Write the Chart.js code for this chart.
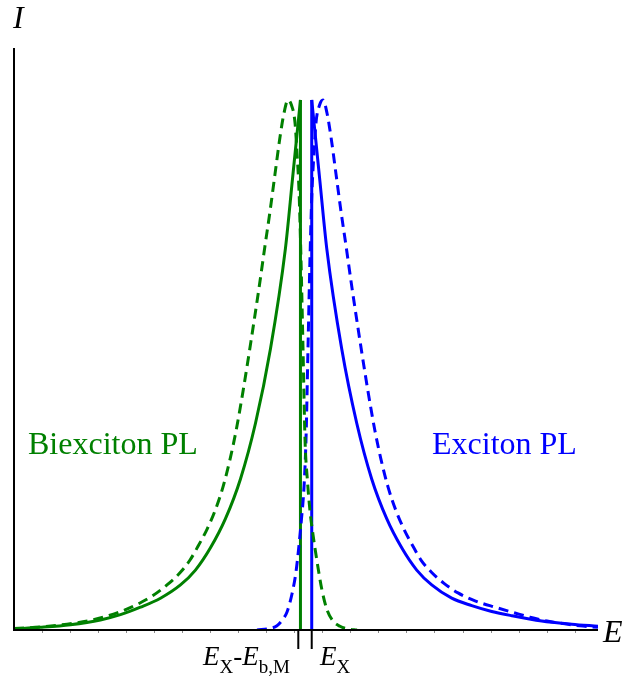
<!DOCTYPE html>
<html>
<head>
<meta charset="utf-8">
<script src="https://cdn.jsdelivr.net/npm/chart.js@4.4.1/dist/chart.umd.min.js"></script>
<style>
  html, body { margin: 0; padding: 0; background: #fff; }
  canvas { display: block; }
</style>
</head>
<body>
<canvas id="chart" width="625" height="680" style="width:625px;height:680px"></canvas>
<script>
// Energy axis in arbitrary units (0..100), intensity normalised to the peak (1)
const E_MIN = 0, E_MAX = 100;
const I_MIN = 0, I_MAX = 1.098;

// line positions: E_X - E_b,M (biexciton cusp) and E_X (exciton cusp)
const biexCusp = 49.05;
const excCusp = 50.98;
const cuspI = [0, 1.0];

// Biexciton PL, sharp line shape (solid green), rising up to the cusp
const biexSolidE = [0, 4.53, 9.67, 14.80, 18.23, 21.65, 25.08, 28.50, 31.07, 33.64, 36.21, 38.78, 41.35, 43.91, 46.48, 47.68, 49.05];
const biexSolidI = [0.002, 0.005, 0.010, 0.019, 0.029, 0.043, 0.060, 0.085, 0.113, 0.155, 0.21, 0.285, 0.39, 0.53, 0.72, 0.85, 1.0];

// Biexciton PL, broadened (dashed green)
const biexDashE = [0, 4.97, 9.08, 13.01, 16.44, 19.01, 21.58, 23.80, 26.20, 28.42, 30.14, 31.51, 33.05, 34.42, 35.79, 36.99, 38.01, 39.21, 40.58, 41.95, 42.98, 43.84, 44.69, 45.55, 46.23, 46.92,
                   47.52, 48.12, 48.46, 48.80, 49.14, 49.49, 49.83, 50.26, 50.68, 51.20, 51.88, 52.74, 53.60, 54.62, 55.82, 57.19, 58.73];
const biexDashI = [0.003, 0.006, 0.011, 0.018, 0.028, 0.038, 0.051, 0.065, 0.085, 0.108, 0.132, 0.158, 0.19, 0.225, 0.270, 0.322, 0.375, 0.45, 0.545, 0.645, 0.725, 0.79, 0.86, 0.93, 0.975, 1.0,
                   0.99, 0.957, 0.90, 0.83, 0.70, 0.53, 0.36, 0.28, 0.225, 0.18, 0.13, 0.075, 0.038, 0.017, 0.007, 0.002, 0];

// Exciton PL, sharp line shape (solid blue), decaying from the cusp
const excSolidE = [50.98, 52.35, 53.55, 56.12, 58.69, 61.25, 63.82, 66.39, 68.96, 71.53, 74.95, 78.38, 81.80, 85.23, 90.36, 95.50, 100];
const excSolidI = [1.0, 0.85, 0.72, 0.53, 0.39, 0.285, 0.21, 0.155, 0.113, 0.085, 0.060, 0.046, 0.035, 0.027, 0.017, 0.011, 0.007];

// Exciton PL, broadened (dashed blue)
const excDashE = [41.61, 43.84, 45.03, 45.89, 46.75, 47.60, 48.29, 48.80, 49.23, 49.66, 50.00, 50.34, 50.68, 51.03, 51.37, 51.71, 52.31, 52.91,
                  53.60, 54.28, 55.14, 55.99, 56.85, 57.88, 59.25, 60.62, 61.82, 62.84, 64.04, 65.41, 66.78, 68.32, 69.69, 71.40, 73.63, 76.03, 78.94, 82.71, 85.79, 88.36, 91.27, 94.01, 96.92, 100];
const excDashI = [0, 0.003, 0.008, 0.018, 0.034, 0.068, 0.11, 0.16, 0.21, 0.27, 0.36, 0.53, 0.70, 0.83, 0.90, 0.957, 0.99, 1.0,
                  0.975, 0.93, 0.86, 0.79, 0.725, 0.645, 0.545, 0.45, 0.375, 0.322, 0.270, 0.225, 0.19, 0.158, 0.132, 0.110, 0.088, 0.070, 0.055, 0.042, 0.032, 0.024, 0.017, 0.012, 0.008, 0.005];

// marked energies on the axis: E_X - E_b,M and E_X
const markerTicks = [48.68, 50.98];
const minorTickStep = 4.8;

const GREEN = '#008000';
const BLUE = '#0000ff';
const SERIF = '"Liberation Serif", "DejaVu Serif", serif';

function pts(xs, ys) {
  return xs.map((x, i) => ({ x: x, y: ys[i] }));
}

function drawRuns(ctx, runs, x, y) {
  // runs: [text, size, italic, baseline shift]
  runs.forEach(r => {
    ctx.font = (r[2] ? 'italic ' : '') + r[1] + 'px ' + SERIF;
    ctx.fillText(r[0], x, y + r[3]);
    x += ctx.measureText(r[0]).width;
  });
}

const decorations = {
  id: 'decorations',
  afterDatasetsDraw(chart) {
    const { ctx, chartArea: a, scales } = chart;
    const xs = scales.x;
    ctx.save();

    // little grey ticks under the energy axis
    ctx.strokeStyle = '#8a8a8a';
    ctx.lineWidth = 1;
    for (let e = minorTickStep; e < E_MAX; e += minorTickStep) {
      const px = Math.round(xs.getPixelForValue(e)) + 0.5;
      ctx.beginPath();
      ctx.moveTo(px, a.bottom);
      ctx.lineTo(px, a.bottom + 3);
      ctx.stroke();
    }

    // axes
    ctx.strokeStyle = '#000';
    ctx.lineWidth = 2;
    ctx.beginPath();
    ctx.moveTo(a.left, a.top);
    ctx.lineTo(a.left, a.bottom);
    ctx.lineTo(a.right, a.bottom);
    ctx.stroke();

    // long marker ticks
    markerTicks.forEach(e => {
      const px = xs.getPixelForValue(e);
      ctx.beginPath();
      ctx.moveTo(px, a.bottom);
      ctx.lineTo(px, a.bottom + 19);
      ctx.stroke();
    });

    // axis titles
    ctx.fillStyle = '#000';
    ctx.textBaseline = 'alphabetic';
    ctx.textAlign = 'left';
    ctx.font = 'italic 32px ' + SERIF;
    ctx.fillText('I', a.left - 1, 28);
    ctx.fillText('E', a.right + 5, 642);

    // marker labels
    drawRuns(ctx, [['E', 27, true, 0], ['X', 19, false, 8], ['-', 27, false, 0], ['E', 27, true, 0], ['b,M', 19, false, 8]], 203, a.bottom + 35);
    drawRuns(ctx, [['E', 27, true, 0], ['X', 19, false, 8]], 320, a.bottom + 35);

    // series labels
    ctx.font = '32px ' + SERIF;
    ctx.fillStyle = GREEN;
    ctx.fillText('Biexciton PL', 28, 454);
    ctx.fillStyle = BLUE;
    ctx.fillText('Exciton PL', 432, 454);

    ctx.restore();
  }
};

const line = (data, color, dashed) => ({
  data: data,
  showLine: true,
  borderColor: color,
  backgroundColor: color,
  borderWidth: 3,
  borderDash: dashed ? [10, 6] : [],
  pointRadius: 0,
  cubicInterpolationMode: 'monotone',
  fill: false
});

new Chart(document.getElementById('chart'), {
  type: 'scatter',
  data: {
    datasets: [
      line(pts(biexDashE, biexDashI), GREEN, true),
      line(pts(excDashE, excDashI), BLUE, true),
      line(pts(biexSolidE, biexSolidI), GREEN, false),
      line(pts([biexCusp, biexCusp], cuspI), GREEN, false),
      line(pts(excSolidE, excSolidI), BLUE, false),
      line(pts([excCusp, excCusp], cuspI), BLUE, false)
    ]
  },
  options: {
    responsive: false,
    animation: false,
    events: [],
    layout: { padding: { left: 14, right: 27, top: 48, bottom: 50 } },
    plugins: { legend: { display: false }, tooltip: { enabled: false } },
    scales: {
      x: { type: 'linear', min: E_MIN, max: E_MAX, display: false },
      y: { type: 'linear', min: I_MIN, max: I_MAX, display: false }
    }
  },
  plugins: [decorations]
});
</script>
</body>
</html>
